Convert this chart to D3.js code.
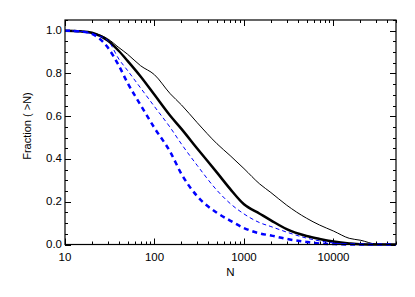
<!DOCTYPE html>
<html><head><meta charset="utf-8">
<script src="https://cdn.jsdelivr.net/npm/d3@7"></script>
<style>
html,body{margin:0;padding:0;background:#fff;}
svg{display:block;font-family:"Liberation Sans",Arial,Helvetica,sans-serif;}
</style></head>
<body>
<svg id="c" width="415" height="297"></svg>
<script>
const nValues = [10,15,20,30,40,50,70,100,150,200,300,500,700,1000,1500,2000,3000,5000,7000,10000,15000,20000,30000,50000];
const thinBlack  = [1.0,0.995,0.99,0.962,0.921,0.89,0.836,0.794,0.705,0.653,0.57,0.471,0.416,0.355,0.283,0.243,0.184,0.123,0.091,0.063,0.029,0.02,0.002,0.0];
const thickBlack = [1.0,0.997,0.99,0.954,0.905,0.859,0.786,0.70,0.602,0.541,0.449,0.336,0.26,0.188,0.144,0.113,0.072,0.04,0.026,0.014,0.005,0.001,0.0,0.0];
const thinBlue   = [1.0,0.997,0.985,0.955,0.867,0.814,0.732,0.645,0.547,0.47,0.37,0.253,0.192,0.143,0.102,0.084,0.058,0.03,0.017,0.007,0.002,0.001,0.0,0.0];
const thickBlue  = [1.0,0.996,0.985,0.922,0.836,0.756,0.652,0.545,0.433,0.33,0.226,0.148,0.112,0.077,0.052,0.042,0.026,0.012,0.005,0.002,0.0,0.0,0.0,0.0];
const xTickValues = [10,100,1000,10000];
const yTickValues = [0.0,0.2,0.4,0.6,0.8,1.0];
const xLabel = "N";
const yLabel = "Fraction ( >N)";

const svg = d3.select("#c");
const L = 65, R = 396, T = 20, B = 244.5;
const x = d3.scaleLog().domain([10, 50000]).range([L, R]);
const y = d3.scaleLinear().domain([0, 1.05]).range([B, T]);

const xMinor = [];
for (let d = 10; d < 50000; d *= 10) for (let k = 2; k <= 9; k++) { if (d*k <= 50000) xMinor.push(d*k); }
const yMinor = d3.range(0, 1.051, 0.05).filter(v => Math.abs(Math.round(v*5) - v*5) > 1e-6);

const g = svg.append("g");
const tickStyle = s => s.attr("stroke", "#000").attr("stroke-width", 1).attr("fill","none");

function xt(vals, len) {
  vals.forEach(v => {
    const px = Math.round(x(v)) + 0.5;
    g.append("line").attr("x1", px).attr("x2", px).attr("y1", B).attr("y2", B - len).call(tickStyle);
    g.append("line").attr("x1", px).attr("x2", px).attr("y1", T).attr("y2", T + len).call(tickStyle);
  });
}
function yt(vals, len) {
  vals.forEach(v => {
    const py = Math.round(y(v)) + 0.5;
    g.append("line").attr("x1", L).attr("x2", L + len).attr("y1", py).attr("y2", py).call(tickStyle);
    g.append("line").attr("x1", R).attr("x2", R - len).attr("y1", py).attr("y2", py).call(tickStyle);
  });
}
xt(xTickValues, 6); xt(xMinor, 3);
yt(yTickValues, 6); yt(yMinor, 3);

const line = d3.line().x((d,i) => x(nValues[i])).y(d => y(d)).curve(d3.curveMonotoneX);
const series = [
  {v: thinBlack,  c: "#000", w: 1,   dash: null},
  {v: thickBlack, c: "#000", w: 2.5, dash: null},
  {v: thinBlue,   c: "#0000ff", w: 1,   dash: "4,3"},
  {v: thickBlue,  c: "#0000ff", w: 2.5, dash: "5,4"}
];
svg.append("clipPath").attr("id","cp").append("rect").attr("x",L).attr("y",T).attr("width",R-L).attr("height",B-T+1.5);
series.forEach(s => {
  svg.append("path").datum(s.v).attr("d", line).attr("fill","none")
    .attr("stroke", s.c).attr("stroke-width", s.w)
    .attr("stroke-dasharray", s.dash).attr("clip-path","url(#cp)");
});

svg.append("rect").attr("x", L).attr("y", T).attr("width", R - L).attr("height", B - T)
  .attr("fill","none").attr("stroke","#000").attr("stroke-width",1.2);

const fs = 11.5;
xTickValues.forEach(v => {
  svg.append("text").attr("x", x(v)).attr("y", 260.5).attr("text-anchor","middle")
    .attr("font-size", fs).text(d3.format("d")(v));
});
yTickValues.forEach(v => {
  svg.append("text").attr("x", L - 3).attr("y", y(v) + 3.5).attr("text-anchor","end")
    .attr("font-size", fs).text(d3.format(".1f")(v));
});
svg.append("text").attr("x", (L + R)/2).attr("y", 276).attr("text-anchor","middle")
  .attr("font-size", fs).text(xLabel);
svg.append("text").attr("transform", "translate(31,126) rotate(-90)").attr("text-anchor","middle")
  .attr("font-size", 11).text(yLabel);
</script>
</body></html>
